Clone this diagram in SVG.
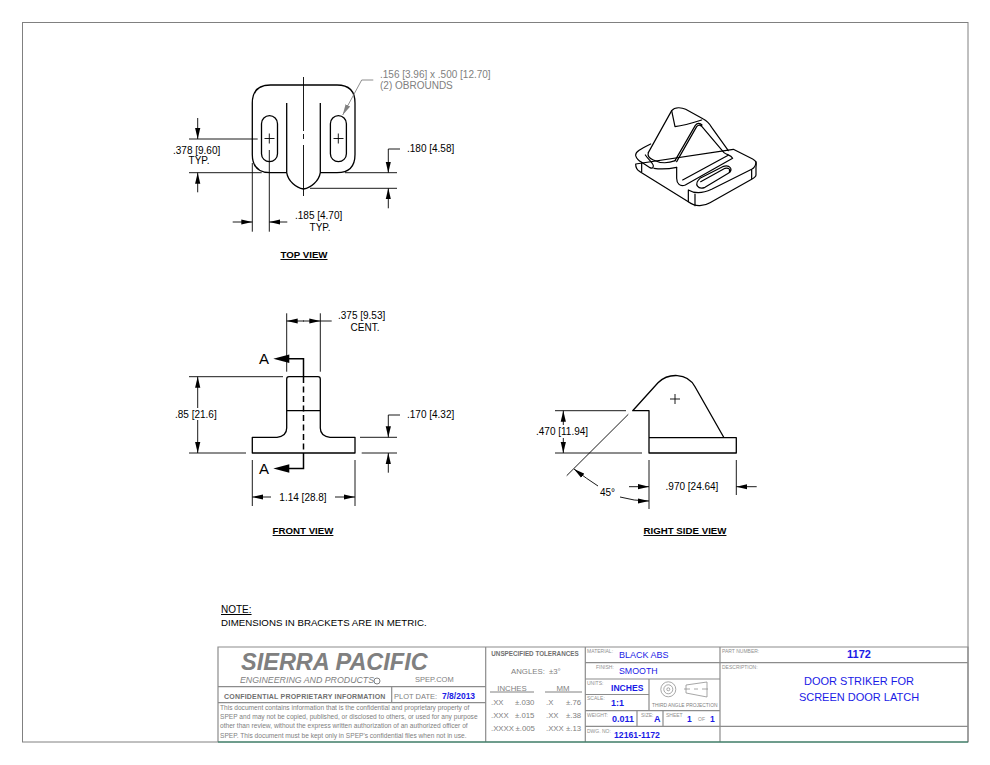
<svg xmlns="http://www.w3.org/2000/svg" width="990" height="765" viewBox="0 0 990 765">
<defs>
<marker id="ah" markerUnits="userSpaceOnUse" markerWidth="12" markerHeight="6" refX="11" refY="3" orient="auto"><path d="M0,0.400 L11,3 L0,5.600 Z" fill="#000"/></marker>
<marker id="ag" markerUnits="userSpaceOnUse" markerWidth="12" markerHeight="6" refX="11" refY="3" orient="auto"><path d="M0,0.400 L11,3 L0,5.600 Z" fill="#808080"/></marker>
</defs>
<style>
text{font-family:"Liberation Sans",Arial,sans-serif;fill:#000}
.v{fill:none;stroke:#000;stroke-width:1.300;stroke-linejoin:round}
.d{fill:none;stroke:#000;stroke-width:.9}
.a{marker-end:url(#ah)}
.t{font-size:10px}
.m{text-anchor:middle}
.h{font-size:9.700px;font-weight:bold;text-anchor:middle;text-decoration:underline}
.g{fill:#808080}
.b{fill:#1a1ae6}
.tb{fill:none;stroke:#8c8c8c;stroke-width:1.200}
.s{font-size:5px;fill:#909090}
.l{font-size:7.800px;fill:#808080}
</style>
<rect width="990" height="765" fill="#fff"/>
<rect id="border" x="22.500" y="22.500" width="945.500" height="719.500" fill="none" stroke="#808080" stroke-width="1"/>

<g id="top-view">
<path class="v" d="M286.700,172.700 H270.500 Q252.300,172.700 252.300,154.500 V103 Q252.300,85 270.500,85 H337 Q355,85 355,103 V154.500 Q355,172.700 337,172.700 H320.300"/>
<path class="v" d="M286.700,103 V172.700 C288,181 296,188 303.500,189 C311,188 319,181 320.300,172.700 V103"/>
<rect class="v" x="261.500" y="115.700" width="16" height="46" rx="8"/>
<rect class="v" x="330.400" y="115.700" width="16" height="46" rx="8"/>
<path class="d" d="M303.500,77 V131 M303.500,134 V139 M303.500,145 V196 M264.500,138.500 H274.500 M269.300,133.500 V143.500 M333.500,138.500 H343.500 M338.300,133.500 V143.500"/>
<path class="d" d="M189,139 H257.700 M189,172.700 H261.700"/>
<path class="d a" d="M197.700,118 V139"/><path class="d a" d="M197.700,192.300 V172.700"/>
<path class="d" d="M345,172.700 H397 M310,188.300 H397 M400,149 H388.300"/>
<path class="d a" d="M388.300,149 V172.700"/><path class="d a" d="M388.300,208.300 V188.300"/>
<path class="d" d="M252.300,163 V231.700 M269.300,150 V231.700"/>
<path class="d a" d="M232.700,222 H252.300"/><path class="d a" d="M287.300,222 H269.300"/>
<path class="d" style="stroke:#808080" d="M373.300,80 H361.700"/>
<path class="d" style="stroke:#808080;marker-end:url(#ag)" d="M361.700,80 L342.700,115"/>
<text class="t" x="173" y="154">.378 [9.60]</text><text class="t m" x="199" y="164">TYP.</text>
<text class="t" x="407" y="152">.180 [4.58]</text>
<text class="t" x="295" y="219">.185 [4.70]</text><text class="t m" x="320" y="231">TYP.</text>
<text class="t g" x="380" y="78">.156 [3.96]  x .500 [12.70]</text><text class="t g" x="380" y="89">(2) OBROUNDS</text>
<text class="h" x="304" y="258">TOP VIEW</text>
</g>

<g id="iso-view" transform="translate(620,90) scale(.3333)">
<g fill="none" stroke="#000" stroke-width="3.600" stroke-linejoin="round" stroke-linecap="round">
<path d="M47,195 C47,185 60,178 92,162 M85,188 L155,62 C165,50 185,52 197,58 L250,87 C262,93 268,100 275,112 L325,182 M340,178 L398,207 C410,213 410,220 408,232 V255 C408,260 402,264 395,268 L270,338 C250,350 225,350 205,335 L60,245 C50,240 47,235 47,222 Z"/>
<path d="M47,197 C50,207 55,212 65,217 L90,233 C100,238 102,228 98,222 C92,212 85,208 76,195 M85,188 C82,197 86,204 100,210 C120,220 145,220 166,212 M102,235 C125,238 150,236 170,232"/>
<path d="M155,62 L165,110 C190,107 220,98 245,90 M165,212 L226,106 C232,98 240,98 246,105 M170,215 L230,110 C236,103 241,104 246,110 L312,188 C320,196 332,192 338,205 L196,285 C180,292 170,280 170,265 V232 M188,270 L326,195"/>
<path d="M65,217 V245 M205,300 V335 M225,312 V347 M395,238 V266 M205,300 C225,312 245,312 275,298 L395,238 C405,232 408,225 408,215"/>
<path d="M240,265 L308,230 C330,222 342,240 325,250 L255,292 C235,300 220,283 240,265 Z M242,275 L315,235 C325,232 332,238 328,243"/>
</g>
</g>

<g id="front-view">
<path class="v" d="M252.300,437.300 H277 Q286.700,436 286.700,428 V379 Q286.700,376.700 289,376.700 H318 Q320.300,376.700 320.300,379 V428 Q320.300,436 330,437.300 H355 V453 H252.300 Z M286.700,410.700 H320.300"/>
<path d="M303.500,377 V453" fill="none" stroke="#000" stroke-width="1.500" stroke-dasharray="6 3.500"/>
<path d="M303.500,376 V358.700 H285 M303.500,453 V468.500 H285" fill="none" stroke="#000" stroke-width="1.500"/>
<path d="M273.300,358.700 L289.300,354.500 V363 Z M273.300,468.500 L289.300,464.300 V472.700 Z" fill="#000"/>
<text x="259" y="364" font-size="15">A</text><text x="259" y="474" font-size="15">A</text>
<path class="d" d="M286.700,313.300 V371.700 M320.300,313.300 V371.700"/>
<path class="d a" d="M304,321 H286.700"/><path class="d a" d="M303,321 H320.300"/><path class="d" d="M320.300,321 H331.700"/>
<path class="d" d="M189,376.700 H283 M189,453 H246"/>
<path class="d a" d="M197.700,408 V376.700"/><path class="d a" d="M197.700,420 V453"/>
<path class="d" d="M360,437.300 H397 M361.700,453 H397 M400,415 H388.300"/>
<path class="d a" d="M388.300,415 V437.300"/><path class="d a" d="M388.300,472.700 V453"/>
<path class="d" d="M252.300,460 V506 M355,460 V506"/>
<path class="d a" d="M271,497 H252.300"/><path class="d a" d="M335,497 H355"/>
<text class="t" x="338" y="319">.375 [9.53]</text><text class="t m" x="365" y="331">CENT.</text>
<text class="t" x="175" y="418">.85 [21.6]</text>
<text class="t" x="407" y="418">.170 [4.32]</text>
<text class="t m" x="303" y="501">1.14 [28.8]</text>
<text class="h" x="303" y="534">FRONT VIEW</text>
</g>

<g id="right-side-view">
<path class="v" d="M649,437.700 H736.300 V453 H649 Z M649,437.700 V410.700 H632.700 L658,382.700 C668,373 687,372 695,386.700 L724,437.700"/>
<path class="d" d="M670,399 H680 M675,394 V404 M628.300,414.300 L566.700,475.700 M555,410.700 H626 M555,453 H642 M649,460 V509 M736.300,460 V495"/>
<path class="d a" d="M563.300,425 V410.700"/><path class="d a" d="M563.300,438 V453"/>
<path class="d a" d="M629,486.700 H649"/><path class="d a" d="M756.700,486.700 H736.300"/>
<path class="d a" d="M598,486 Q587,479 574,469"/>
<path class="d a" d="M620,497 Q634,501 649,501"/>
<text class="t" x="536" y="435">.470 [11.94]</text>
<text class="t m" x="692" y="490">.970 [24.64]</text>
<text class="t" x="600" y="496">45°</text>
<text class="h" x="685" y="534">RIGHT SIDE VIEW</text>
</g>

<g id="note">
<text x="221" y="613" font-size="10" text-decoration="underline">NOTE:</text>
<text x="221" y="626" font-size="9.700">DIMENSIONS IN BRACKETS ARE IN METRIC.</text>
</g>

<g id="title-block">
<path class="tb" d="M218,742 V647 H968 V742 M218,686.700 H485.700 M218,702.700 H485.700 M391.700,686.700 V702.700 M485.700,647 V742 M585.300,647 V742 M720,647 V742 M585.300,662.700 H968 M585.300,679 H720 M585.300,694.500 H649 M585.300,710.700 H720 M585.300,726.300 H968 M649,679 V710.700 M637,710.700 V726.300 M663,710.700 V726.300"/>
<path d="M218,742 H968" stroke="#1f7a5a" stroke-width="1.200"/>
<text x="241" y="670" font-size="23.500" font-weight="bold" font-style="italic" class="g">SIERRA PACIFIC</text>
<text x="240" y="683" font-size="8.800" font-style="italic" class="g">ENGINEERING AND PRODUCTS</text>
<circle cx="377" cy="681" r="3" fill="none" stroke="#606060" stroke-width=".8"/>
<text x="415" y="682" font-size="7.500" class="g">SPEP.COM</text>
<text x="224" y="699" font-size="7" font-weight="bold" style="fill:#707070;letter-spacing:.2px">CONFIDENTIAL PROPRIETARY INFORMATION</text>
<text x="394" y="699" font-size="7.500" class="g">PLOT DATE:</text>
<text x="442" y="699" font-size="8.500" font-weight="bold" class="b">7/8/2013</text>
<text class="g" font-size="6.600" x="220" y="710">This document contains information that is the confidential and proprietary property of</text>
<text class="g" font-size="6.600" x="220" y="719">SPEP and may not be copied, published, or disclosed to others, or used for any purpose</text>
<text class="g" font-size="6.600" x="220" y="728">other than review, without the express written authorization of an authorized officer of</text>
<text class="g" font-size="6.600" x="220" y="737.500">SPEP. This document must be kept only in SPEP's confidential files when not in use.</text>
<text x="535" y="656" font-size="6.300" font-weight="bold" text-anchor="middle" style="fill:#707070">UNSPECIFIED TOLERANCES</text>
<text class="l" x="511" y="674">ANGLES:</text><text class="l" x="549" y="674">±3°</text>
<text class="l m" x="512" y="690.500">INCHES</text><text class="l m" x="563" y="690.500">MM</text>
<path d="M490,692 H534 M545,692 H582" stroke="#808080" stroke-width="1" fill="none"/>
<text class="l" x="491" y="704.500">.XX</text><text class="l" x="515" y="704.500">±.030</text><text class="l" x="546" y="704.500">.X</text><text class="l" x="566" y="704.500">±.76</text>
<text class="l" x="491" y="717.500">.XXX</text><text class="l" x="515" y="717.500">±.015</text><text class="l" x="546" y="717.500">.XX</text><text class="l" x="566" y="717.500">±.38</text>
<text class="l" x="491" y="731">.XXXX</text><text class="l" x="515.500" y="731">±.005</text><text class="l" x="546" y="731">.XXX</text><text class="l" x="566" y="731">±.13</text>
<text class="s" x="587" y="653">MATERIAL:</text><text x="619" y="658" font-size="9" class="b">BLACK ABS</text>
<text class="s" x="596" y="669">FINISH:</text><text x="619" y="674" font-size="8.800" class="b">SMOOTH</text>
<text class="s" x="587" y="685">UNITS:</text><text x="611" y="690.500" font-size="8.600" font-weight="bold" class="b">INCHES</text>
<text class="s" x="587" y="700">SCALE:</text><text x="611" y="706" font-size="9" font-weight="bold" class="b">1:1</text>
<text class="s" x="587" y="717">WEIGHT:</text><text x="612" y="721.500" font-size="9" font-weight="bold" class="b">0.011</text>
<text class="s" x="641" y="717">SIZE:</text><text x="654" y="722" font-size="9" font-weight="bold" class="b">A</text>
<text class="s" x="666" y="717">SHEET</text><text x="687" y="722" font-size="8.500" font-weight="bold" class="b">1</text><text class="s" x="698" y="721">OF</text><text x="710" y="722" font-size="8.500" font-weight="bold" class="b">1</text>
<text class="s" x="587" y="733">DWG. NO:</text><text x="614" y="737.500" font-size="8.700" font-weight="bold" class="b">12161-1172</text>
<g fill="none" stroke="#909090" stroke-width=".8"><circle cx="668.300" cy="689.300" r="7.500"/><circle cx="668.300" cy="689.300" r="4.500"/><circle cx="668.300" cy="689.300" r="1.500"/>
<path d="M686,685 L707,682 V697 L686,693 Z M684,689 H690 M694,689 H698 M702,689 H708"/></g>
<text x="652" y="707" font-size="4.900" class="g">THIRD ANGLE PROJECTION</text>
<text class="s" x="722" y="653">PART NUMBER:</text><text x="859" y="658" font-size="11" font-weight="bold" text-anchor="middle" class="b">1172</text>
<text class="s" x="722" y="669">DESCRIPTION:</text>
<text x="859" y="685" font-size="11" text-anchor="middle" class="b">DOOR STRIKER FOR</text>
<text x="859" y="701" font-size="11" text-anchor="middle" class="b">SCREEN DOOR LATCH</text>
</g>
</svg>
